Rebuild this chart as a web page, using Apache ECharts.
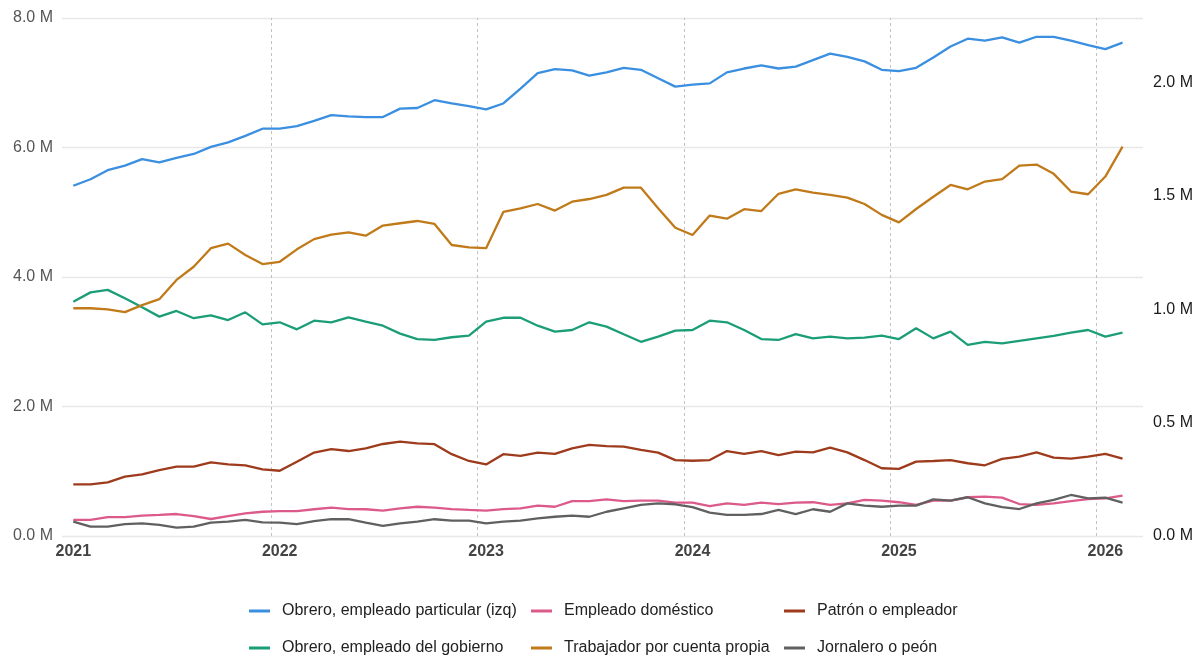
<!DOCTYPE html>
<html>
<head>
<meta charset="utf-8">
<script src="https://cdn.jsdelivr.net/npm/echarts@6/dist/echarts.min.js"></script>
<style>
html,body{margin:0;padding:0;background:#fff;}
#chart{width:1203px;height:658px;}
</style>
</head>
<body>
<div id="chart"></div>
<script>
// Monthly observations, Jan 2021 .. Feb 2026 (millions)
const months = [];
for (let y = 2021; y <= 2026; y++) {
  for (let m = 1; m <= 12; m++) {
    if (y === 2026 && m > 2) break;
    months.push(y + '-' + String(m).padStart(2, '0'));
  }
}
const yearTicks = ['2021', '2022', '2023', '2024', '2025', '2026'];
const leftTicks = [0, 2, 4, 6, 8];
const rightTicks = [0, 0.5, 1.0, 1.5, 2.0];

// left axis (izq)
const obreroParticular = [5.41,5.51,5.65,5.72,5.82,5.77,5.84,5.90,6.01,6.08,6.18,6.29,
  6.29,6.33,6.41,6.50,6.48,6.47,6.47,6.60,6.61,6.73,6.68,6.64,
  6.59,6.68,6.91,7.15,7.21,7.19,7.11,7.16,7.23,7.20,7.07,6.94,
  6.97,6.99,7.16,7.22,7.27,7.22,7.25,7.35,7.45,7.40,7.33,7.20,
  7.18,7.23,7.39,7.56,7.68,7.65,7.70,7.62,7.71,7.71,7.65,7.58,
  7.52,7.62];
// right axis
const obreroGobierno = [1.034,1.075,1.086,1.049,1.009,0.968,0.993,0.961,0.974,0.953,0.987,0.934,
  0.943,0.912,0.950,0.943,0.965,0.946,0.928,0.893,0.869,0.865,0.877,0.884,
  0.946,0.963,0.963,0.928,0.902,0.909,0.943,0.924,0.890,0.857,0.880,0.906,
  0.909,0.950,0.943,0.909,0.869,0.865,0.891,0.872,0.880,0.872,0.875,0.884,
  0.869,0.917,0.872,0.902,0.843,0.857,0.850,0.861,0.872,0.883,0.897,0.909,
  0.880,0.897];
const empleadoDomestico = [0.071,0.071,0.083,0.083,0.090,0.093,0.097,0.088,0.075,0.088,0.100,0.107,
  0.110,0.110,0.118,0.125,0.119,0.118,0.112,0.122,0.129,0.125,0.119,0.115,
  0.112,0.119,0.122,0.134,0.129,0.154,0.154,0.162,0.154,0.156,0.156,0.147,
  0.147,0.132,0.144,0.137,0.147,0.141,0.147,0.149,0.137,0.144,0.159,0.156,
  0.149,0.137,0.156,0.156,0.171,0.174,0.169,0.141,0.137,0.144,0.154,0.163,
  0.166,0.178];
const cuentaPropia = [1.005,1.005,1.000,0.988,1.019,1.045,1.130,1.188,1.270,1.290,1.240,1.200,
  1.210,1.265,1.310,1.330,1.340,1.325,1.370,1.380,1.390,1.377,1.284,1.274,
  1.270,1.430,1.446,1.465,1.436,1.475,1.487,1.505,1.537,1.537,1.446,1.360,
  1.328,1.414,1.400,1.442,1.434,1.510,1.530,1.515,1.505,1.493,1.465,1.417,
  1.384,1.443,1.497,1.549,1.530,1.564,1.575,1.634,1.639,1.598,1.520,1.508,
  1.586,1.718];
const patron = [0.228,0.228,0.237,0.262,0.272,0.291,0.306,0.306,0.325,0.316,0.312,0.294,
  0.288,0.328,0.368,0.383,0.375,0.387,0.406,0.416,0.409,0.405,0.361,0.331,
  0.316,0.361,0.354,0.368,0.362,0.387,0.402,0.397,0.394,0.380,0.368,0.335,
  0.332,0.335,0.375,0.362,0.375,0.357,0.372,0.369,0.390,0.369,0.335,0.299,
  0.296,0.328,0.331,0.335,0.321,0.312,0.340,0.350,0.369,0.346,0.341,0.350,
  0.362,0.341];
const jornalero = [0.063,0.041,0.041,0.052,0.056,0.049,0.037,0.041,0.059,0.063,0.071,0.060,
  0.059,0.052,0.066,0.074,0.074,0.059,0.045,0.056,0.063,0.074,0.068,0.068,
  0.056,0.063,0.068,0.078,0.085,0.090,0.085,0.107,0.122,0.137,0.144,0.140,
  0.127,0.103,0.093,0.093,0.097,0.115,0.097,0.118,0.107,0.144,0.134,0.129,
  0.134,0.134,0.162,0.156,0.171,0.144,0.127,0.119,0.144,0.159,0.181,0.166,
  0.169,0.147];

const names = ['Obrero, empleado particular (izq)', 'Obrero, empleado del gobierno',
  'Empleado doméstico', 'Trabajador por cuenta propia',
  'Patrón o empleador', 'Jornalero o peón'];
const colors = ['#3a8fe0', '#1b9e77', '#dc5a8a', '#c07a1a', '#9e3b1c', '#606060'];
const seriesVals = [obreroParticular, obreroGobierno, empleadoDomestico, cuentaPropia, patron, jornalero];
const axisIdx = [0, 1, 1, 1, 1, 1];

const FONT = '"Liberation Sans", Arial, sans-serif';
const toPairs = arr => arr.map((v, i) => [i, v]);
const yearIdx = yearTicks.map(y => months.indexOf(y + '-01'));
const jan1Lines = yearIdx.slice(1).map(i => ({ xAxis: i - 0.5 }));

const series = names.map((n, k) => ({
  name: n,
  type: 'line',
  yAxisIndex: axisIdx[k],
  data: toPairs(seriesVals[k]),
  showSymbol: false,
  symbol: 'none',
  lineStyle: { width: 2.3, color: colors[k] },
  itemStyle: { color: colors[k] },
  emphasis: { disabled: true },
  z: 3,
  markLine: k === 0 ? {
    silent: true, symbol: 'none', label: { show: false },
    lineStyle: { type: [3, 3], color: '#b3b3b3', width: 0.8 },
    data: jan1Lines, z: 1, animation: false
  } : undefined
}));

// legend: 3 columns x 2 rows
const legendLeft = [249, 249, 531, 531, 784, 784];
const legendTop = [602, 639, 602, 639, 602, 639];
const legends = names.map((n, k) => ({
  orient: 'horizontal', left: legendLeft[k], top: legendTop[k], padding: 0,
  itemWidth: 21, itemHeight: 3,
  icon: 'rect',
  data: [n],
  selectedMode: false,
  textStyle: { fontFamily: FONT, fontSize: 16, color: '#222', lineHeight: 18, padding: [0, 0, 0, 7] }
}));

const chart = echarts.init(document.getElementById('chart'), null, { renderer: 'canvas' });
chart.setOption({
  animation: false,
  backgroundColor: '#fff',
  grid: { left: 62, right: 60, top: 18, bottom: 122 },
  xAxis: {
    type: 'value',
    min: -0.657, max: 62.19,
    axisLine: { show: false }, axisTick: { show: false },
    splitLine: { show: false },
    axisLabel: {
      customValues: yearIdx,
      formatter: v => yearTicks[yearIdx.indexOf(Math.round(v))] || '',
      fontFamily: FONT, fontSize: 16, fontWeight: 'bold', color: '#444', margin: 8
    }
  },
  yAxis: [{
    type: 'value', min: leftTicks[0], max: leftTicks[leftTicks.length - 1], interval: 2,
    axisLine: { show: false }, axisTick: { show: false },
    splitLine: { lineStyle: { color: '#e8e8e8', width: 1.3 } },
    axisLabel: { formatter: v => v.toFixed(1) + ' M', fontFamily: FONT, fontSize: 16, color: '#555', margin: 9 }
  }, {
    type: 'value', min: rightTicks[0], max: 8 / 3.5, interval: 0.5,
    position: 'right',
    axisLine: { show: false }, axisTick: { show: false },
    splitLine: { show: false },
    axisLabel: { showMaxLabel: false, formatter: v => v.toFixed(1) + ' M', fontFamily: FONT, fontSize: 16, color: '#1a1a1a', margin: 10 }
  }],
  legend: legends,
  series: series
});
</script>
</body>
</html>
